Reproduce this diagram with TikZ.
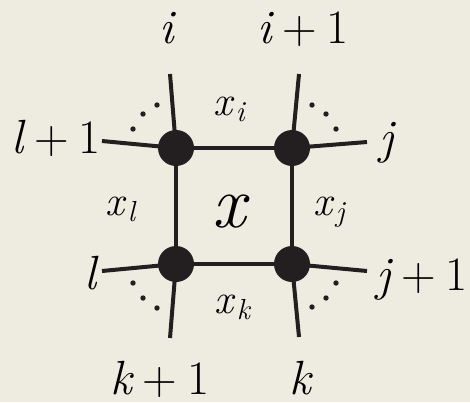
\documentclass[tikz,border=0pt]{standalone}
\usepackage{fontspec}
\newfontfamily\lmr{Latin Modern Roman}
\definecolor{bg}{HTML}{EEEBE1}
\definecolor{ink}{HTML}{231F20}
\newcommand\xsub[1]{\textit{x}\kern1.5pt\raisebox{-6.5pt}{\fontsize{29}{29}\selectfont\textit{#1}}}
\newcommand\plusone[1]{\textit{#1}\kern8pt+\kern10pt1}
\tikzset{
  edge/.style={draw=ink,line width=4pt},
  vert/.style={circle,fill=ink,minimum size=36pt,inner sep=0pt},
  dotmark/.style={circle,fill=ink,minimum size=5.4pt,inner sep=0pt},
  outer/.style={inner sep=0pt,font=\lmr\fontsize{48}{48}\selectfont},
  inner/.style={inner sep=0pt,font=\lmr\fontsize{42}{42}\selectfont},
  big/.style={inner sep=0pt,font=\lmr\fontsize{74}{74}\selectfont},
}
\begin{document}
\begin{tikzpicture}[x=1pt,y=-1pt]
\fill[bg] (0,0) rectangle (470,402);
\useasboundingbox (0,0) rectangle (470,402);
% vertex positions
\coordinate (A) at (176,148);
\coordinate (B) at (292,148);
\coordinate (C) at (176,264);
\coordinate (D) at (292,264);
% free ends
\coordinate (Au) at (170,74);
\coordinate (Al) at (102,141);
\coordinate (Bu) at (299,74);
\coordinate (Br) at (367,142);
\coordinate (Cl) at (102,271);
\coordinate (Cd) at (170,338);
\coordinate (Dr) at (367,271);
\coordinate (Dd) at (299,337);
% edges
\draw[edge] (A) -- (B) -- (D) -- (C) -- cycle;
\draw[edge] (A) -- (Au);
\draw[edge] (A) -- (Al);
\draw[edge] (B) -- (Bu);
\draw[edge] (B) -- (Br);
\draw[edge] (C) -- (Cl);
\draw[edge] (C) -- (Cd);
\draw[edge] (D) -- (Dr);
\draw[edge] (D) -- (Dd);
% vertices
\node[vert] (vA) at (A) {};
\node[vert] (vB) at (B) {};
\node[vert] (vC) at (C) {};
\node[vert] (vD) at (D) {};
% dots
\node[dotmark] (a1) at (133,129) {};
\node[dotmark] (a2) at (143,114) {};
\node[dotmark] (a3) at (157,105) {};
\node[dotmark] (b1) at (312,105) {};
\node[dotmark] (b2) at (326,114) {};
\node[dotmark] (b3) at (336,129) {};
\node[dotmark] (c1) at (133,283) {};
\node[dotmark] (c2) at (143,298) {};
\node[dotmark] (c3) at (157,308) {};
\node[dotmark] (d1) at (336,283) {};
\node[dotmark] (d2) at (326,298) {};
\node[dotmark] (d3) at (312,307) {};
% outer labels
\node[outer,anchor=base] (li) at (168,43) {\textit{i}};
\node[outer,anchor=base] (lip) at (303,43) {\plusone{i}};
\node[outer,anchor=base east] (llp) at (101,153) {\plusone{l}};
\node[outer,anchor=base west] (lj) at (379,153) {\textit{j}};
\node[outer,anchor=base east] (ll) at (99,289) {\textit{l}};
\node[outer,anchor=base west] (ljp) at (376,290) {\plusone{j}};
\node[outer,anchor=base] (lkp) at (160,394) {\plusone{k}};
\node[outer,anchor=base] (lk) at (301,394) {\textit{k}};
% inner labels
\node[inner,anchor=base west] (xi) at (213,115) {\xsub{i}};
\node[inner,anchor=base west] (xl) at (105,215) {\xsub{l}};
\node[inner,anchor=base west] (xj) at (313,215) {\xsub{j}};
\node[inner,anchor=base west] (xk) at (214,313) {\xsub{k}};
\node[big,anchor=base] (xc) at (231,227) {\textit{x}};
\end{tikzpicture}
\end{document}
